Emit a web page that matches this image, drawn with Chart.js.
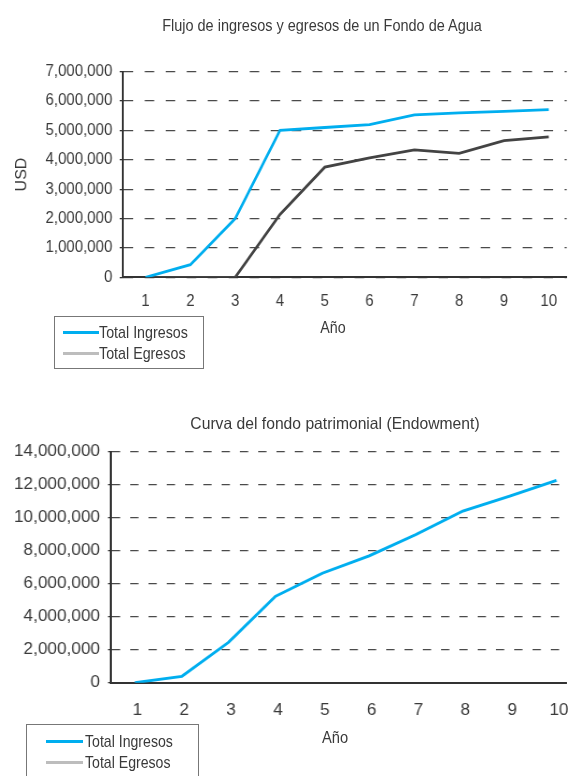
<!DOCTYPE html>
<html>
<head>
<meta charset="utf-8">
<script src="https://cdn.jsdelivr.net/npm/chart.js@4.4.1/dist/chart.umd.min.js"></script>
<style>
  html, body { margin: 0; padding: 0; background: #fff; width: 568px; height: 776px; overflow: hidden; }
  body { position: relative; font-family: "Liberation Sans", Arial, sans-serif; color: #3a3a3a; }
  .panel { position: absolute; left: 0; transform-origin: 0 0; }
  .panel canvas { position: absolute; left: 0; top: 0; }
  .txt { position: absolute; white-space: nowrap; line-height: 1; }
  .legend { position: absolute; box-sizing: border-box; border: 1.5px solid #777; background: #fff; }
  .swatch { position: absolute; height: 3px; }
</style>
</head>
<body>
<script>
// Años del horizonte del fondo
const years = [1, 2, 3, 4, 5, 6, 7, 8, 9, 10];

// Flujo anual (USD)
const totalIngresos = [0, 430000, 2000000, 5000000, 5100000, 5200000, 5530000, 5600000, 5650000, 5710000];
const totalEgresos  = [0, 0, 0, 2140000, 3750000, 4070000, 4340000, 4220000, 4650000, 4780000];

// Fondo patrimonial acumulado (USD)
const endowment = [0, 380000, 2450000, 5230000, 6630000, 7680000, 8970000, 10390000, 11300000, 12250000];

// Marcas del eje Y
const flujoTicks = [0, 1000000, 2000000, 3000000, 4000000, 5000000, 6000000, 7000000];
const fondoTicks = [0, 2000000, 4000000, 6000000, 8000000, 10000000, 12000000, 14000000];

const FONT = "'Liberation Sans', Arial, sans-serif";
const INK = '#3a3a3a';
const AXIS = '#333333';
const BLUE = '#00AEEF';
const DARK = '#434343';
const LIGHT = '#BDBDBD';

const legendItems = [
  { label: 'Total Ingresos', color: BLUE },
  { label: 'Total Egresos', color: LIGHT }
];

// Texto HTML con ancho condensado (k = factor horizontal)
function addText(parent, text, x, y, size, k, anchor) {
  const d = document.createElement('div');
  d.className = 'txt';
  d.textContent = text;
  d.style.left = x + 'px';
  d.style.top = y + 'px';
  d.style.fontSize = size + 'px';
  if (anchor === 'left') {
    d.style.transformOrigin = '0 50%';
    d.style.transform = 'translateY(-50%) scaleX(' + k + ')';
  } else {
    d.style.transform = 'translate(-50%, -50%) scaleX(' + k + ')';
  }
  parent.appendChild(d);
}

function addLegend(box) {
  const lg = document.createElement('div');
  lg.className = 'legend';
  Object.assign(lg.style, {
    left: box.left + 'px', top: box.top + 'px',
    width: box.w + 'px', height: box.h + 'px'
  });
  document.body.appendChild(lg);
  legendItems.forEach((it, i) => {
    const sw = document.createElement('div');
    sw.className = 'swatch';
    Object.assign(sw.style, {
      left: (box.lineX - box.left) + 'px', width: box.lineW + 'px',
      top: (box.rows[i] - box.top - 2.5) + 'px', background: it.color
    });
    lg.appendChild(sw);
    addText(lg, it.label, box.textX - box.left - 1.5, box.rows[i] - box.top - 1.5, box.size, box.k, 'left');
  });
}

function buildChart(p) {
  const sx = 568 / p.width;
  const wrap = document.createElement('div');
  wrap.className = 'panel';
  wrap.style.top = p.top + 'px';
  wrap.style.width = p.width + 'px';
  wrap.style.height = p.height + 'px';
  wrap.style.transform = 'scaleX(' + sx + ')';
  document.body.appendChild(wrap);
  const canvas = document.createElement('canvas');
  wrap.appendChild(canvas);

  new Chart(canvas, {
    type: 'line',
    data: {
      datasets: p.series.map(s => ({
        label: s.label,
        data: years.map((yr, i) => ({ x: yr, y: s.values[i] })),
        borderColor: s.color,
        borderWidth: 2.8,
        pointRadius: 0,
        tension: 0,
        fill: false
      }))
    },
    options: {
      responsive: true,
      maintainAspectRatio: false,
      animation: false,
      events: [],
      layout: { padding: { top: p.areaTop, left: 0, right: 0, bottom: 0 } },
      plugins: { legend: { display: false }, title: { display: false }, tooltip: { enabled: false } },
      scales: {
        x: {
          type: 'linear',
          min: p.xMin,
          max: p.xMax,
          afterBuildTicks: s => { s.ticks = years.map(v => ({ value: v })); },
          afterFit: s => {
            s.height = p.height - p.areaBottom;
            s.paddingLeft = 0;
            s.paddingRight = 0;
          },
          grid: { display: false, drawTicks: false },
          border: { display: true, color: AXIS, width: 2 },
          ticks: {
            font: { family: FONT, size: 16 }, color: INK, padding: p.xPad,
            labelOffset: p.labelOffset || 0,
            maxRotation: 0, autoSkip: false, callback: v => String(v)
          }
        },
        y: {
          type: 'linear',
          min: 0,
          max: p.yTicks[p.yTicks.length - 1],
          afterBuildTicks: s => { s.ticks = p.yTicks.map(v => ({ value: v })); },
          afterFit: s => { s.width = p.areaLeft; },
          grid: {
            color: '#4a4a4a', lineWidth: 1.3,
            drawTicks: true, tickLength: p.tickLen, tickColor: AXIS, tickWidth: 1.3, tickBorderDash: []
          },
          border: { display: true, color: AXIS, width: 2, dash: p.dash },
          title: {
            display: !!p.yTitle, text: p.yTitle || '',
            font: { family: FONT, size: 16 }, color: INK, padding: { top: 13.5, bottom: 0 }
          },
          ticks: {
            font: { family: FONT, size: 16 }, color: INK, padding: p.yPad,
            callback: v => Number(v).toLocaleString('en-US')
          }
        }
      }
    }
  });
}

// Flujo de ingresos y egresos
buildChart({
  top: 0, width: 606, height: 385,
  areaLeft: 130.9, areaTop: 71.7, areaBottom: 277.3,
  xMin: 0.489, xMax: 10.40, xPad: 14.8, yPad: 7.9, tickLen: 3.2,
  dash: [10.1, 12.3],
  yTicks: flujoTicks, yTitle: 'USD',
  series: [
    { label: 'Total Ingresos', values: totalIngresos, color: BLUE },
    { label: 'Total Egresos', values: totalEgresos, color: DARK }
  ]
});
addText(document.body, 'Flujo de ingresos y egresos de un Fondo de Agua', 322, 25, 16.5, 0.878, 'center');
addText(document.body, 'Año', 333, 327, 16.3, 0.876, 'center');
addLegend({ left: 54, top: 316, w: 150, h: 53, lineX: 62, lineW: 36, textX: 99, rows: [332, 353], size: 17, k: 0.84 });

// Curva del fondo patrimonial
buildChart({
  top: 385, width: 528, height: 391,
  areaLeft: 103.2, areaTop: 66.5, areaBottom: 297.7,
  xMin: 0.49, xMax: 10.213, xPad: 18.2, yPad: 7.4, tickLen: 2.8, labelOffset: 2.3,
  dash: [7.7, 9.3],
  yTicks: fondoTicks, yTitle: '',
  series: [
    { label: 'Total Ingresos', values: endowment, color: BLUE }
  ]
});
addText(document.body, 'Curva del fondo patrimonial (Endowment)', 334.5, 423, 16.5, 0.95, 'center');
addText(document.body, 'Año', 335, 737, 16.3, 0.9, 'center');
addLegend({ left: 26, top: 724, w: 173, h: 60, lineX: 45, lineW: 36.5, textX: 85, rows: [741, 762.7], size: 17, k: 0.83 });
</script>
</body>
</html>
